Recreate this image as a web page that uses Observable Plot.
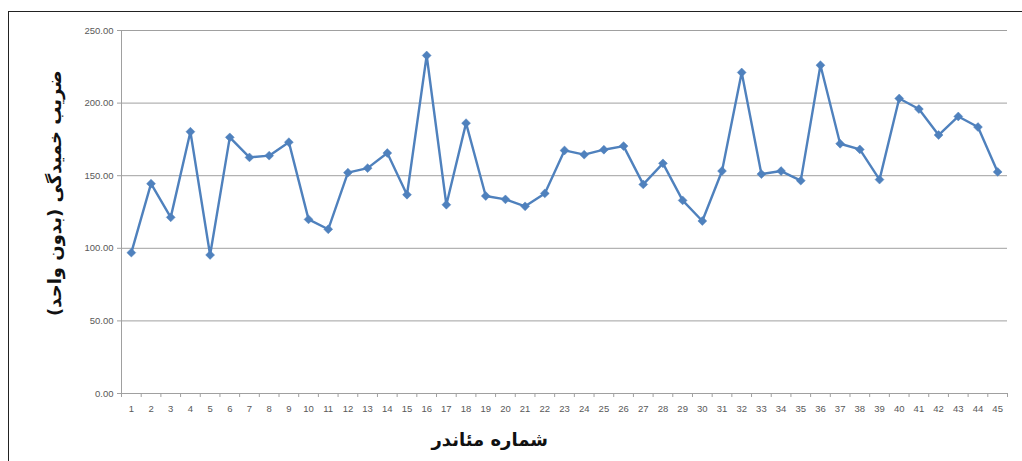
<!DOCTYPE html>
<html>
<head>
<meta charset="utf-8">
<script src="https://cdn.jsdelivr.net/npm/d3@7"></script>
<script src="https://cdn.jsdelivr.net/npm/@observablehq/plot@0.6"></script>
<style>
  html, body { margin: 0; padding: 0; background: #fff; }
  #wrap { position: relative; width: 1022px; height: 461px; overflow: hidden; }
  #border { position: absolute; left: 8px; top: 11px; width: 2000px; height: 2000px;
            border-top: 1.5px solid #222; border-left: 1.5px solid #222; }
  #chart { position: absolute; left: 0; top: 0; }
</style>
</head>
<body>
<div id="wrap"><div id="border"></div><div id="chart"></div></div>
<script>
// Meander numbers (categories)
const meanders = d3.range(1, 46);
// Sinuosity coefficient (unitless)
const sinuosity = [
  97.0, 144.5, 121.3, 180.3, 95.4, 176.4, 162.6, 163.8, 173.1, 119.9,
  113.1, 152.1, 155.2, 165.6, 136.9, 232.8, 130.0, 186.2, 136.0, 133.7,
  128.9, 137.8, 167.4, 164.5, 167.9, 170.4, 144.0, 158.5, 133.0, 118.8,
  153.2, 221.1, 151.1, 153.2, 146.6, 226.1, 172.0, 168.1, 147.3, 203.2,
  195.9, 178.0, 190.8, 183.5, 152.6
];
const yTicks = [0, 50, 100, 150, 200, 250];
const yTitle = "ضریب خمیدگی (بدون واحد)";
const xTitle = "شماره مئاندر";

const data = meanders.map((m, i) => ({meander: m, value: sinuosity[i]}));
const boundaries = [...meanders.map(m => m - 0.5), meanders[meanders.length - 1] + 0.5];

const W = 1022, H = 461;
const mL = 121, mR = 15, mT = 30, mB = 68;
const blue = "#4F81BD";
const grid = "#a0a0a0";
const tickFont = "Liberation Sans, Arial, sans-serif";

const plot = Plot.plot({
  width: W,
  height: H,
  marginLeft: mL,
  marginRight: mR,
  marginTop: mT,
  marginBottom: mB,
  style: {background: "transparent", overflow: "visible"},
  x: {type: "linear", domain: [0.5, 45.5]},
  y: {domain: [0, 250]},
  marks: [
    Plot.ruleY(yTicks, {stroke: grid, strokeWidth: 1}),
    Plot.ruleX([0.5], {stroke: grid, strokeWidth: 1}),
    Plot.axisY({ticks: yTicks, tickFormat: d => d.toFixed(2), tickSize: 4, tickPadding: 4,
      stroke: grid, fill: "#595959", fontSize: 9.5, fontFamily: tickFont, label: null}),
    Plot.axisX({ticks: boundaries, tickFormat: () => "", tickSize: 4, stroke: grid, label: null}),
    Plot.axisX({ticks: meanders, tickFormat: d => String(d), tickSize: 0, tickPadding: 12,
      fill: "#595959", fontSize: 9.5, fontFamily: tickFont, label: null}),
    Plot.line(data, {x: "meander", y: "value", stroke: blue, strokeWidth: 2.4, strokeLinejoin: "round"}),
    Plot.dot(data, {x: "meander", y: "value", symbol: "diamond2", r: 4, fill: blue, stroke: blue, strokeWidth: 0.5}),
    Plot.text([yTitle], {frameAnchor: "left", textAnchor: "middle", dx: -66, rotate: -90, text: d => d,
      y: () => 138, fontSize: 18, fontWeight: "bold", fontFamily: "DejaVu Sans, sans-serif", fill: "#111"}),
    Plot.text([xTitle], {frameAnchor: "bottom", textAnchor: "middle", dy: 52, text: d => d, x: () => 19.2,
      fontSize: 18, fontWeight: "bold", fontFamily: "DejaVu Sans, sans-serif", fill: "#111"})
  ]
});
document.getElementById("chart").appendChild(plot);
</script>
</body>
</html>
